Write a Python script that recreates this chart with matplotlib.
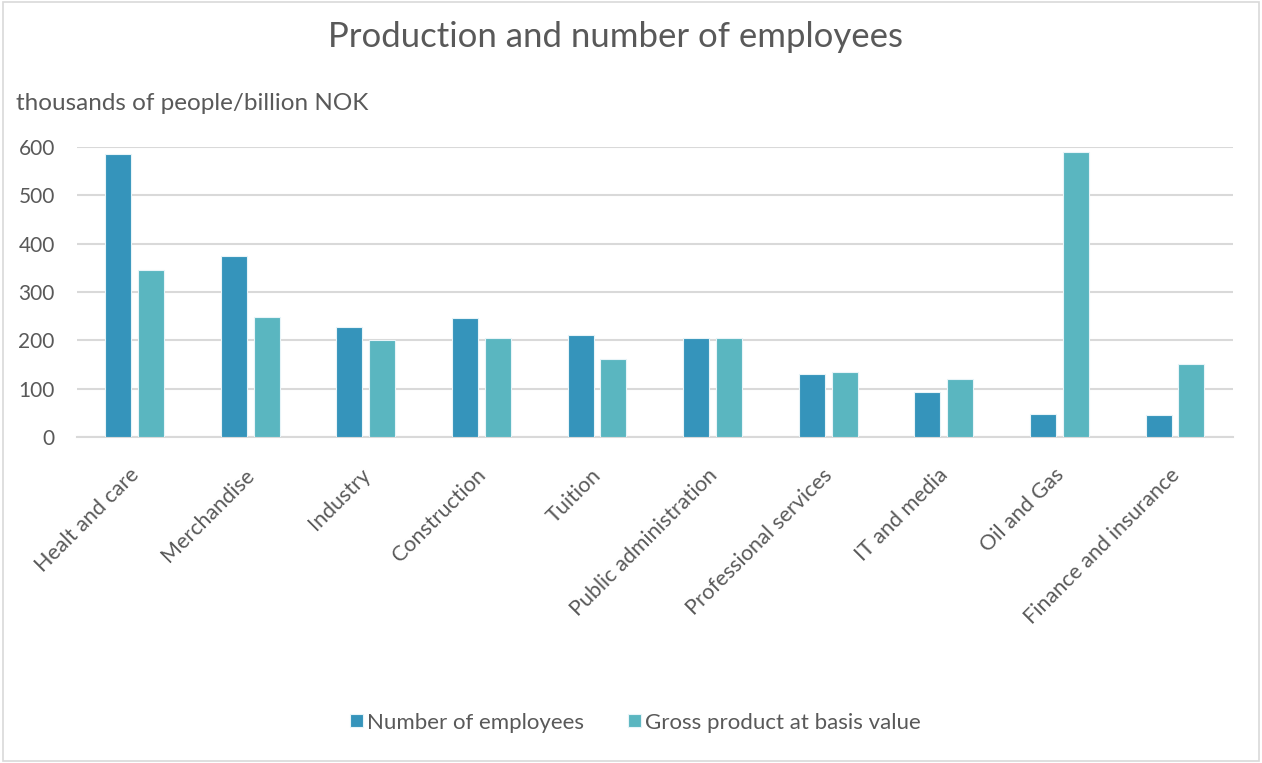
import matplotlib.pyplot as plt
import numpy as np
from matplotlib.patches import Rectangle
from matplotlib.transforms import ScaledTranslation

plt.rcParams['font.family'] = ['Lato', 'DejaVu Sans']

sectors = ['Healt and care', 'Merchandise', 'Industry', 'Construction', 'Tuition',
           'Public administration', 'Professional services', 'IT and media',
           'Oil and Gas', 'Finance and insurance']
employees = [585, 374, 228, 246, 211, 204, 131, 94, 47, 45]
gross_product = [346, 248, 200, 204, 162, 204, 134, 120, 590, 152]
series_names = ['Number of employees', 'Gross product at basis value']

emp_color = '#3594BB'
gross_color = '#5AB6C0'
text_color = '#595959'
grid_color = '#D9D9D9'

fig = plt.figure(figsize=(12.62, 7.63), dpi=100)
ax = fig.add_axes([0.061, 0.4273, 0.916, 0.38])

x = np.arange(len(sectors))
width = 0.225
ax.bar(x - 0.144, employees, width, color=emp_color, edgecolor='#E8F4F8',
       linewidth=0.8, label=series_names[0], zorder=3)
ax.bar(x + 0.140, gross_product, width, color=gross_color, edgecolor='#E8F4F8',
       linewidth=0.8, label=series_names[1], zorder=3)

ax.set_xlim(-0.5, len(sectors) - 0.5)
ax.set_ylim(0, 600)
ax.set_yticks(range(0, 601, 100))
ax.yaxis.grid(True, color=grid_color, linewidth=1.5, zorder=0)
ax.set_axisbelow(True)
for side in ['top', 'right', 'left']:
    ax.spines[side].set_visible(False)
ax.spines['bottom'].set_color(grid_color)
ax.spines['bottom'].set_linewidth(1.5)
ax.tick_params(axis='both', length=0, colors=text_color)
ax.tick_params(axis='y', pad=16, labelsize=15)
ax.set_xticks(x)
ax.set_xticklabels(sectors, rotation=45, ha='right', va='top',
                   rotation_mode='anchor', fontsize=15.5, color=text_color)
ax.tick_params(axis='x', pad=20)
# nudge the slanted category names a little to the left
shift = ScaledTranslation(-6 / 100, 0, fig.dpi_scale_trans)
for lbl in ax.get_xticklabels():
    lbl.set_transform(lbl.get_transform() + shift)

fig.text(0.488, 0.951, 'Production and number of employees', ha='center', va='center',
         fontsize=25, color=text_color)
fig.text(0.013, 0.865, 'thousands of people/billion NOK', ha='left', va='center',
         fontsize=17.5, color=text_color)

leg = fig.legend(loc='center', bbox_to_anchor=(0.5036, 0.053), ncol=2, frameon=False,
                 fontsize=16, handlelength=0.55, handleheight=0.55, handletextpad=0.2,
                 columnspacing=2.0)
for t in leg.get_texts():
    t.set_color(text_color)

# light frame around the whole chart
fig.patches.append(Rectangle((0.002, 0.003), 0.996, 0.994, transform=fig.transFigure,
                             fill=False, edgecolor='#D9D9D9', linewidth=1.2))

fig.savefig('out.png', dpi=100)
